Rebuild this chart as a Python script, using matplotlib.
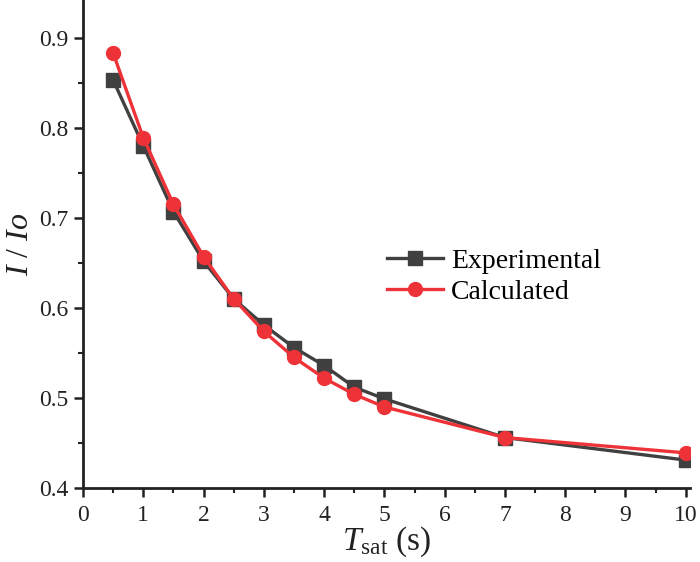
import matplotlib
matplotlib.use("Agg")
import matplotlib.pyplot as plt
from matplotlib.ticker import MultipleLocator

plt.rcParams['font.family'] = ['Liberation Serif', 'DejaVu Serif']
plt.rcParams['mathtext.fontset'] = 'custom'
plt.rcParams['mathtext.rm'] = 'Liberation Serif'
plt.rcParams['mathtext.it'] = 'Liberation Serif:italic'

t_sat = [0.5, 1, 1.5, 2, 2.5, 3, 3.5, 4, 4.5, 5, 7, 10]
experimental = [0.853, 0.780, 0.707, 0.652, 0.610, 0.581, 0.556, 0.536, 0.512, 0.499, 0.456, 0.431]
calculated = [0.883, 0.789, 0.715, 0.657, 0.610, 0.574, 0.545, 0.522, 0.504, 0.490, 0.456, 0.439]

fig = plt.figure(figsize=(7, 5.62), dpi=100)
ax = fig.add_axes([0.1186, 0.1317, 0.8671, 0.8683])

gray = '#404040'
red = '#ee3338'
ax.plot(t_sat, experimental, '-s', color=gray, lw=2.4, ms=9.5, label='Experimental')
ax.plot(t_sat, calculated, '-o', color=red, lw=2.4, ms=10, label='Calculated')

ax.set_xlim(0, 10.07)
ax.set_ylim(0.4, 0.942)
ax.xaxis.set_major_locator(MultipleLocator(1))
ax.xaxis.set_minor_locator(MultipleLocator(0.5))
ax.yaxis.set_minor_locator(MultipleLocator(0.05))
ax.set_yticks([0.4, 0.5, 0.6, 0.7, 0.8, 0.9])
ax.set_yticklabels(['0.4', '0.5', '0.6', '0.7', '0.8', '0.9'])

for s in ['top', 'right']:
    ax.spines[s].set_visible(False)
for s in ['left', 'bottom']:
    ax.spines[s].set_linewidth(2.0)
    ax.spines[s].set_color('#222222')

ax.tick_params(which='major', direction='out', length=6.5, width=1.8, labelsize=17,
               colors='#222222', pad=4)
ax.tick_params(which='minor', direction='out', length=3.5, width=1.5, colors='#222222')
ax.tick_params(axis='x', which='major', pad=6)

ax.set_xlabel(r'$T_{\mathrm{sat}}$ (s)', fontsize=24, labelpad=-1, color='#222222')
ax.set_ylabel(r'$I$ / $Io$', fontsize=23, labelpad=3, color='#222222')

leg = ax.legend(loc='center left', bbox_to_anchor=(0.501, 0.433), frameon=False,
                fontsize=20, handlelength=2.0, handletextpad=0.3, labelspacing=0.22,
                borderpad=0, borderaxespad=0)

fig.savefig('out.png', dpi=100)
